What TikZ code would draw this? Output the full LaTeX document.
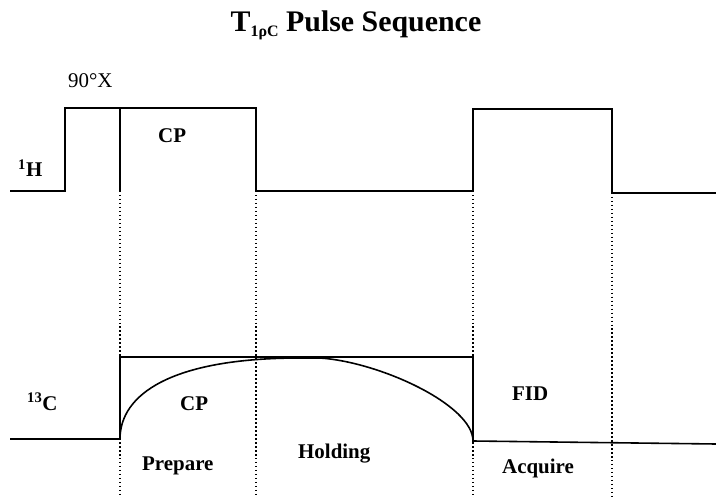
\documentclass[tikz,border=0pt]{standalone}
\usepackage{fontspec}
\setmainfont{Liberation Serif}
\begin{document}
\begin{tikzpicture}[x=1bp,y=-1bp,
  wave/.style={line width=1.6pt,line join=miter},
  guide/.style={line width=1.6pt,dash pattern=on 1.5pt off 2.5pt},
  lbl/.style={inner sep=0pt,anchor=base west,font=\fontsize{21}{24}\selectfont\bfseries},
  ttl/.style={inner sep=0pt,anchor=base,font=\fontsize{30}{33}\selectfont\bfseries}]
\useasboundingbox (0,0) rectangle (716,498);

% title
\node[ttl] (title) at (356,32) {T\raisebox{-0.35ex}{\fontsize{16}{17}\selectfont 1ρC} Pulse Sequence};

% timing marks
\coordinate (t0) at (120,0);
\coordinate (t1) at (256,0);
\coordinate (t2) at (473,0);
\coordinate (t3) at (612,0);

% 1H channel
\coordinate (h0) at (10,191);
\coordinate (h1) at (65,191);
\coordinate (h2) at (65,108);
\coordinate (h3) at (256,108);
\coordinate (h4) at (256,191);
\coordinate (h5) at (473,191);
\coordinate (h6) at (473,109);
\coordinate (h7) at (612,109);
\coordinate (h8) at (612,193);
\coordinate (h9) at (716,193);
\coordinate (hs) at (120,108);
\coordinate (hb) at (120,191);
\draw[wave] (h0) -- (h1) -- (h2) -- (h3) -- (h4) -- (h5) -- (h6) -- (h7) -- (h8) -- (h9);
\draw[wave] (hs) -- (hb);

% 13C channel
\coordinate (c0) at (10,439);
\coordinate (c1) at (120,439);
\coordinate (c2) at (120,357);
\coordinate (c3) at (473,357);
\coordinate (c4) at (473,441);
\coordinate (c5) at (716,444);
\draw[wave] (c0) -- (c1) -- (c2) -- (c3) -- (c4) -- (c5);

% magnetisation build-up and decay
\coordinate (m0) at (300,358);
\coordinate (m1) at (320,358);
\draw[wave] (c1) .. controls (120,395) and (170,358) .. (m0) -- (m1)
  .. controls (380,362) and (473,405) .. (c4);

% dotted guides
\draw[guide] (hb) -- (t0 |- 0,498);
\draw[guide] (h4) -- (t1 |- 0,498);
\draw[guide] (h5) -- (t2 |- 0,498);
\draw[guide] (h8) -- (t3 |- 0,498);

% labels
\node[lbl,font=\fontsize{21}{24}\selectfont] (px) at (68,88) {90°X};
\node[lbl] (hl) at (18,177) {\textsuperscript{1}H};
\node[lbl] (cpH) at (158,143) {CP};
\node[lbl] (cl) at (27,410) {\textsuperscript{13}C};
\node[lbl] (cpC) at (180,410) {CP};
\node[lbl] (prep) at (142,470) {Prepare};
\node[lbl] (hold) at (298,458) {Holding};
\node[lbl] (fid) at (512,400) {FID};
\node[lbl] (acq) at (502,473) {Acquire};
\end{tikzpicture}
\end{document}
